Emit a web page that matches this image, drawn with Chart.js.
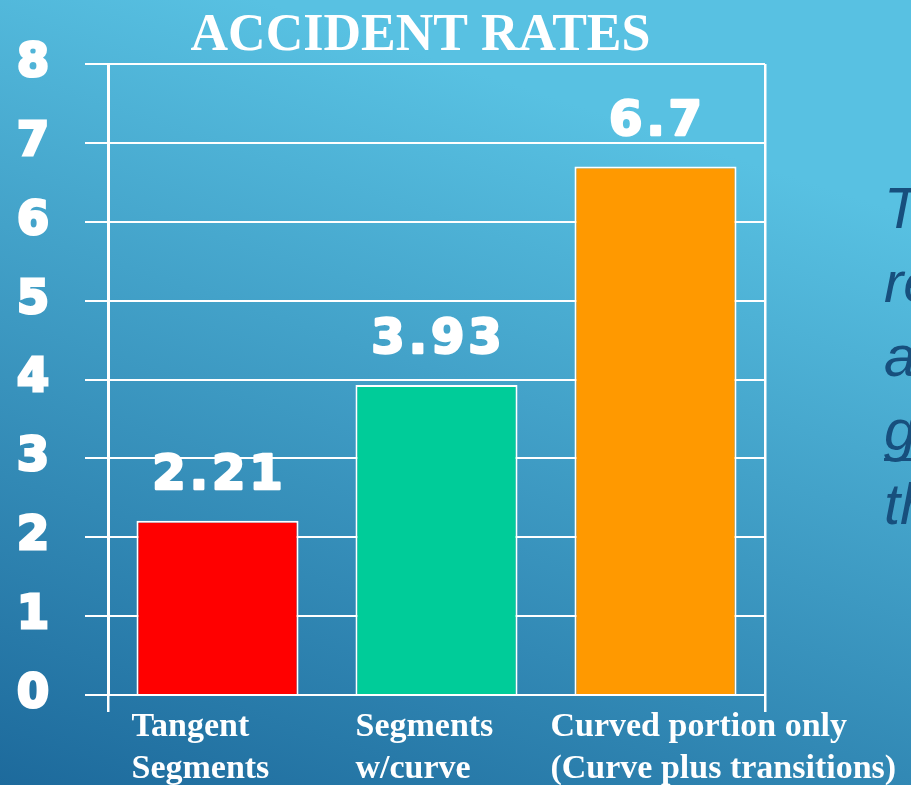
<!DOCTYPE html>
<html>
<head>
<meta charset="utf-8">
<script src="https://cdn.jsdelivr.net/npm/chart.js@4"></script>
<style>
  html, body { margin: 0; padding: 0; background: #2f8dbd; }
  canvas { display: block; }
</style>
</head>
<body>
<canvas id="accidentRates" width="911" height="785"></canvas>
<script>
// data
const categories = [['Tangent', 'Segments'], ['Segments', 'w/curve'], ['Curved portion only', '(Curve plus transitions)']];
const rates = [2.21, 3.93, 6.7];
const barColors = ['#ff0000', '#00cc99', '#ff9900'];
const yTicks = [0, 1, 2, 3, 4, 5, 6, 7, 8];
const chartTitle = 'ACCIDENT RATES';
// text on the right side of the slide, cut off by the edge
const sideText = ['T', 're', 'a', 'g', 'th'];

const labelShift = [-5, 0, -24];

// gradient background + all the extra text
const slidePlugin = {
    id: 'slide',
    beforeDraw(chart) {
        const ctx = chart.ctx;
        const w = chart.width, h = chart.height;
        const g = ctx.createLinearGradient(0, h, 260, 0);
        g.addColorStop(0, '#1d6a9c');
        g.addColorStop(1, '#58c1e2');
        ctx.save();
        ctx.fillStyle = g;
        ctx.fillRect(0, 0, w, h);
        ctx.restore();
    },
    afterDatasetsDraw(chart) {
        const ctx = chart.ctx;
        const area = chart.chartArea;
        const meta = chart.getDatasetMeta(0);
        ctx.save();

        // value above each bar (stroked a bit to look like a black-weight font)
        ctx.fillStyle = '#ffffff';
        ctx.strokeStyle = '#ffffff';
        ctx.lineWidth = 2.5;
        ctx.lineJoin = 'round';
        ctx.font = 'bold 48px "DejaVu Sans"';
        ctx.textAlign = 'center';
        ctx.textBaseline = 'alphabetic';
        ctx.letterSpacing = '4px';
        meta.data.forEach((bar, i) => {
            ctx.strokeText(String(rates[i]), bar.x + 2, bar.y - 32);
            ctx.fillText(String(rates[i]), bar.x + 2, bar.y - 32);
        });
        ctx.letterSpacing = '0px';

        // title
        ctx.font = 'bold 52px "Liberation Serif"';
        ctx.fillText(chartTitle, (area.left + area.right) / 2 - 16, area.top - 14);

        // category labels, left aligned under the bars
        ctx.font = 'bold 34px "Liberation Serif"';
        ctx.textAlign = 'left';
        meta.data.forEach((bar, i) => {
            const x = bar.x - bar.width / 2 + labelShift[i];
            categories[i].forEach((line, j) => {
                ctx.fillText(line, x, area.bottom + 41 + j * 42);
            });
        });

        // side text
        ctx.fillStyle = '#174f7d';
        ctx.font = 'italic 58px "Liberation Sans"';
        sideText.forEach((t, i) => {
            const y = 228 + i * 74;
            ctx.fillText(t, 884, y);
            if (t === 'g') {
                ctx.fillRect(884, y + 8, 40, 3);
            }
        });
        ctx.restore();
    }
};

const ctx = document.getElementById('accidentRates').getContext('2d');
new Chart(ctx, {
    type: 'bar',
    data: {
        labels: categories,
        datasets: [{
            data: rates,
            backgroundColor: barColors,
            borderColor: '#ffffff',
            borderWidth: 2,
            barPercentage: 0.74,
            categoryPercentage: 1
        }]
    },
    options: {
        responsive: false,
        animation: false,
        layout: {
            padding: { top: 64, right: 146, left: 0, bottom: 0 }
        },
        plugins: {
            legend: { display: false },
            tooltip: { enabled: false }
        },
        scales: {
            x: {
                afterFit(scale) { scale.height = 90; },
                ticks: { display: false },
                border: { display: false },
                grid: {
                    // only the outer lines of the plot box, hanging below the axis
                    color: (c) => (c.index > 0 && c.index < categories.length) ? 'rgba(0,0,0,0)' : '#ffffff',
                    lineWidth: 2.5,
                    tickLength: 17
                }
            },
            y: {
                min: yTicks[0],
                max: yTicks[yTicks.length - 1],
                afterFit(scale) { scale.width = 108; },
                afterBuildTicks(scale) {
                    scale.ticks = yTicks.map(v => ({ value: v }));
                },
                ticks: {
                    color: '#ffffff',
                    font: { family: '"DejaVu Sans"', size: 46, weight: 'bold' },
                    textStrokeColor: '#ffffff',
                    textStrokeWidth: 3,
                    padding: 36
                },
                border: { display: true, color: '#ffffff', width: 3 },
                grid: {
                    color: '#ffffff',
                    lineWidth: 2,
                    tickLength: 23
                }
            }
        }
    },
    plugins: [slidePlugin]
});
</script>
</body>
</html>
